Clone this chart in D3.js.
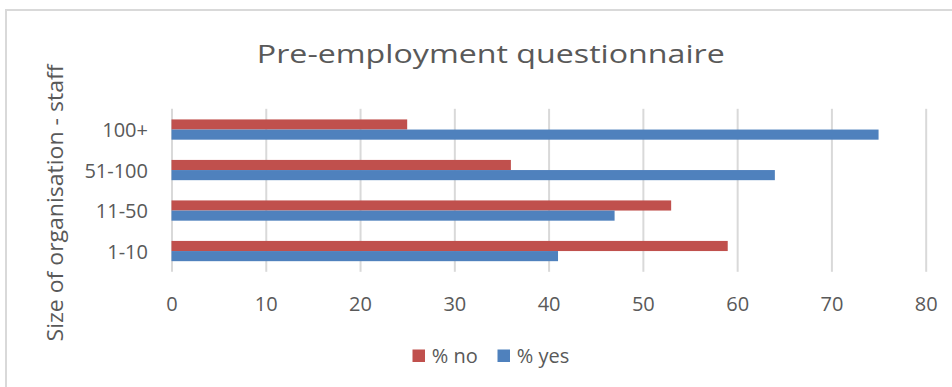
<!DOCTYPE html>
<html>
<head>
<meta charset="utf-8">
<script src="https://cdn.jsdelivr.net/npm/d3@7"></script>
<style>
  html, body { margin: 0; padding: 0; background: #fff; }
  svg { display: block; }
  text { font-family: "Open Sans", "Segoe UI", sans-serif; fill: #595959; }
</style>
</head>
<body>
<svg id="chart" width="952" height="387"></svg>
<script>
const categories = ["1-10", "11-50", "51-100", "100+"];
const seriesNames = ["% no", "% yes"];
const noValues = [59, 53, 36, 25];
const yesValues = [41, 47, 64, 75];
const xTickValues = [0, 10, 20, 30, 40, 50, 60, 70, 80];
const colors = ["#C0504D", "#4F81BD"];
const titleText = "Pre-employment questionnaire";
const yTitleText = "Size of organisation - staff";

const svg = d3.select("#chart");

// chart frame (top and left edges visible)
svg.append("path")
  .attr("d", "M6,387V10H952")
  .attr("fill", "none")
  .attr("stroke", "#d9d9d9")
  .attr("stroke-width", 2);

const plot = { left: 171.5, right: 925.7, top: 109.3, bottom: 271.3 };

const x = d3.scaleLinear().domain([0, 80]).range([plot.left, plot.right]);
const y = d3.scaleBand()
  .domain(categories.slice().reverse())
  .range([plot.top, plot.bottom])
  .paddingInner(0.5)
  .paddingOuter(0.25);
const ySub = d3.scaleBand().domain(seriesNames).range([0, y.bandwidth()]);

// gridlines + x tick labels
const xAxis = d3.axisBottom(x)
  .tickValues(xTickValues)
  .tickSize(-(plot.bottom - plot.top) - 1)
  .tickPadding(25)
  .tickFormat(d3.format("d"));
const gx = svg.append("g")
  .attr("transform", `translate(0,${plot.bottom + 0.5})`)
  .call(xAxis);
gx.select(".domain").remove();
gx.selectAll(".tick line").attr("stroke", "#d9d9d9").attr("stroke-width", 2);
gx.selectAll(".tick text")
  .attr("font-size", 20)
  .style("font-family", '"Open Sans", sans-serif')
  .attr("fill", "#595959");

// category axis
const yAxis = d3.axisLeft(y).tickSize(0).tickPadding(23.5);
const gy = svg.append("g")
  .attr("transform", `translate(${plot.left},1.5)`)
  .call(yAxis);
gy.select(".domain").remove();
gy.selectAll(".tick text")
  .attr("font-size", 20)
  .style("font-family", '"Open Sans", sans-serif')
  .attr("fill", "#595959");

// bars
const rows = categories.map((c, i) => ({ cat: c, vals: [noValues[i], yesValues[i]] }));
const groups = svg.append("g").selectAll("g")
  .data(rows).join("g")
  .attr("transform", d => `translate(0,${y(d.cat)})`);
groups.selectAll("rect")
  .data(d => d.vals.map((v, j) => ({ name: seriesNames[j], v, j })))
  .join("rect")
  .attr("x", x(0))
  .attr("y", d => ySub(d.name))
  .attr("width", d => x(d.v) - x(0))
  .attr("height", ySub.bandwidth())
  .attr("fill", d => colors[d.j]);

// title
svg.append("text")
  .attr("x", 490.8)
  .attr("y", 63.3)
  .attr("text-anchor", "middle")
  .attr("font-size", 26)
  .attr("textLength", 468)
  .attr("lengthAdjust", "spacingAndGlyphs")
  .text(titleText);

// y axis title
svg.append("text")
  .attr("transform", "translate(63,203) rotate(-90)")
  .attr("text-anchor", "middle")
  .attr("font-size", 21)
  .attr("textLength", 277)
  .attr("lengthAdjust", "spacingAndGlyphs")
  .text(yTitleText);

// legend
const legendX = [412.5, 497.5];
const legend = svg.append("g").selectAll("g")
  .data(seriesNames).join("g")
  .attr("transform", (d, i) => `translate(${legendX[i]},349.5)`);
legend.append("rect")
  .attr("width", 12.5).attr("height", 12.5)
  .attr("fill", (d, i) => colors[i]);
legend.append("text")
  .attr("x", 19.2)
  .attr("y", 13.8)
  .attr("font-size", 20)
  .text(d => d);
</script>
</body>
</html>
